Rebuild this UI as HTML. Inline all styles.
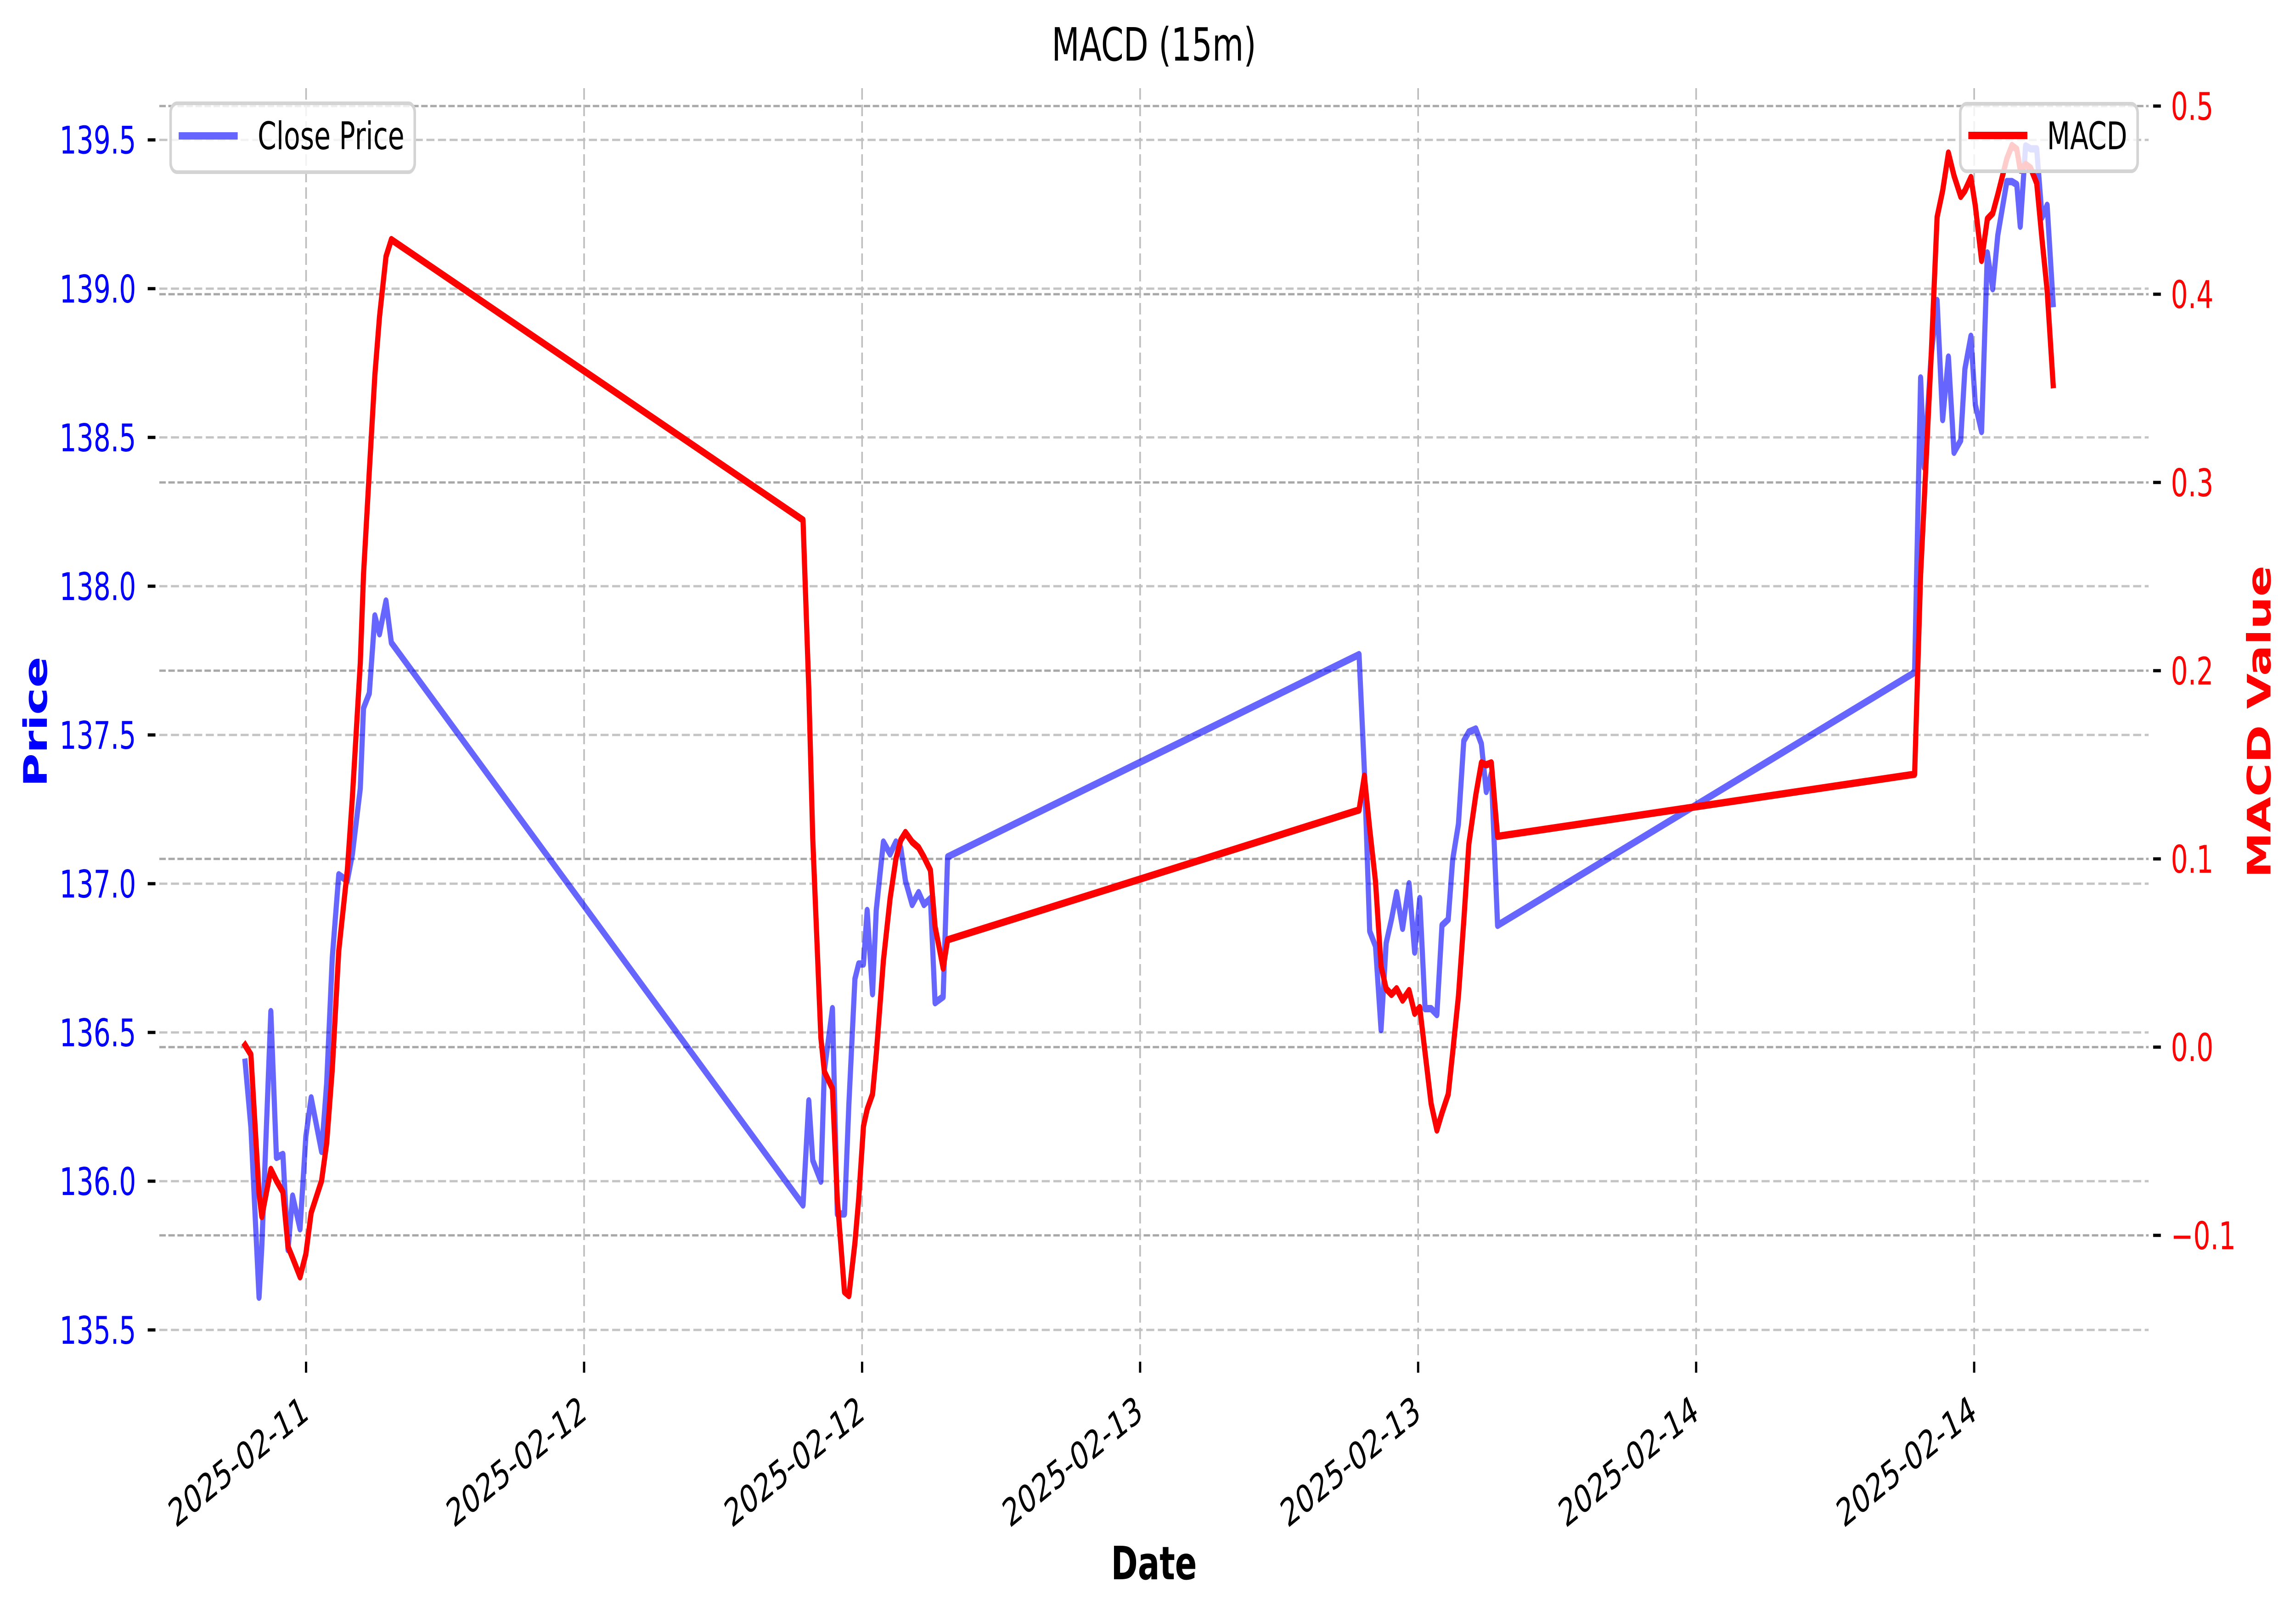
<!DOCTYPE html>
<html><head><meta charset="utf-8"><title>MACD (15m)</title>
<style>html,body{margin:0;padding:0;background:#fff;overflow:hidden;width:100%;height:100%}svg{display:block;width:100vw;height:100vh}text{font-family:"DejaVu Sans","Liberation Sans",sans-serif}</style>
</head><body>
<svg id="chart" xmlns="http://www.w3.org/2000/svg" viewBox="0 0 7119 3520" preserveAspectRatio="none">
<rect x="0" y="0" width="7119" height="3520" fill="#fff"/>
<g id="grid"></g>
<g id="ticks"></g>
<g id="series"></g>
<text x="3578" y="132" font-size="100" text-anchor="middle" fill="#000">MACD (15m)</text>
<text x="3578" y="3440" font-size="100" font-weight="bold" text-anchor="middle" fill="#000">Date</text>
<text transform="translate(145,1572) rotate(-90)" font-size="100" font-weight="bold" text-anchor="middle" fill="#0000ff">Price</text>
<text transform="translate(7040,1572) rotate(-90)" font-size="100" font-weight="bold" text-anchor="middle" fill="#ff0000">MACD Value</text>
<g>
<rect x="529" y="225" width="757" height="150" rx="20" fill="#fff" fill-opacity="0.8" stroke="#d4d4d4" stroke-width="8"/>
<line x1="554" y1="296" x2="737" y2="296" stroke="#6666ff" stroke-width="16"/>
<text x="799" y="325" font-size="83" fill="#000">Close Price</text>
</g>
<g>
<rect x="6078" y="226" width="550" height="147" rx="20" fill="#fff" fill-opacity="0.8" stroke="#d4d4d4" stroke-width="8"/>
<line x1="6103" y1="295" x2="6286" y2="295" stroke="#ff0000" stroke-width="16"/>
<text x="6347" y="325" font-size="83" fill="#000">MACD</text>
</g>
</svg>
<script>
// hours relative to 2025-02-11 12:00
const times = [-2.63,-2.38,-2.03,-1.91,-1.52,-1.28,-1.00,-0.78,-0.58,-0.26,-0.01,0.22,0.67,0.89,1.13,1.41,1.78,2.00,2.34,2.48,2.73,2.97,3.17,3.45,3.68,
21.45,21.70,21.87,22.22,22.37,22.72,22.93,23.24,23.43,23.69,23.85,24.06,24.22,24.45,24.61,24.92,25.21,25.46,25.67,25.87,26.16,26.44,26.67,26.95,27.15,27.50,27.69,
45.45,45.68,45.91,46.16,46.40,46.62,46.85,47.07,47.33,47.61,47.85,48.07,48.30,48.56,48.81,49.03,49.30,49.49,49.74,49.97,50.19,50.49,50.73,50.94,51.16,51.43,
69.43,69.69,69.84,70.14,70.40,70.64,70.89,71.13,71.42,71.60,71.86,72.05,72.32,72.57,72.80,73.02,73.41,73.63,73.84,73.99,74.22,74.44,74.70,74.93,75.15,75.41];
const closePrice = [136.40,136.18,135.61,135.78,136.57,136.08,136.09,135.77,135.95,135.84,136.15,136.28,136.10,136.33,136.75,137.03,137.01,137.10,137.32,137.59,137.64,137.90,137.84,137.95,137.81,
135.92,136.27,136.07,136.00,136.37,136.58,135.89,135.89,136.26,136.68,136.73,136.73,136.91,136.63,136.91,137.14,137.10,137.14,137.12,137.01,136.93,136.97,136.93,136.95,136.60,136.62,137.09,
137.77,137.38,136.84,136.79,136.51,136.80,136.88,136.97,136.85,137.00,136.77,136.95,136.58,136.58,136.56,136.86,136.88,137.08,137.20,137.48,137.51,137.52,137.47,137.31,137.37,136.86,
137.71,138.70,138.40,138.77,138.96,138.56,138.77,138.45,138.49,138.73,138.84,138.61,138.52,139.12,139.00,139.18,139.36,139.36,139.35,139.21,139.48,139.47,139.47,139.24,139.28,138.95];
const macdValues = [0.001,-0.004,-0.078,-0.090,-0.065,-0.071,-0.077,-0.106,-0.112,-0.122,-0.110,-0.088,-0.071,-0.051,-0.012,0.051,0.094,0.133,0.204,0.251,0.306,0.357,0.388,0.420,0.429,
0.280,0.190,0.111,0.005,-0.013,-0.022,-0.081,-0.130,-0.132,-0.104,-0.081,-0.042,-0.033,-0.025,-0.004,0.046,0.079,0.100,0.110,0.114,0.109,0.106,0.101,0.094,0.064,0.042,0.057,
0.126,0.144,0.116,0.088,0.043,0.031,0.028,0.031,0.025,0.030,0.018,0.021,-0.003,-0.030,-0.044,-0.035,-0.025,-0.003,0.027,0.067,0.108,0.134,0.151,0.150,0.151,0.112,
0.145,0.251,0.289,0.366,0.441,0.455,0.475,0.463,0.452,0.455,0.462,0.447,0.418,0.440,0.443,0.453,0.472,0.479,0.477,0.466,0.469,0.467,0.459,0.429,0.402,0.352];
const xTickHours = [0,12,24,36,48,60,72];
const xTickLabels = ["2025-02-11","2025-02-12","2025-02-12","2025-02-13","2025-02-13","2025-02-14","2025-02-14"];
const priceTicks = [135.5,136.0,136.5,137.0,137.5,138.0,138.5,139.0,139.5];
const macdTicks = [-0.1,0.0,0.1,0.2,0.3,0.4,0.5];

const PL=494, PR=6662, PT=192, PB=2952;
const X0=-6.334, X1=79.53;
const P0=135.415, P1=139.674;
const M0=-0.1637, M1=0.5095;
const xs = h => PL + (h - X0) / (X1 - X0) * (PR - PL);
const yp = p => PB - (p - P0) / (P1 - P0) * (PB - PT);
const ym = m => PB - (m - M0) / (M1 - M0) * (PB - PT);
const NS='http://www.w3.org/2000/svg';
const mk = (tag, parent) => { const e=document.createElementNS(NS,tag); parent.appendChild(e); return e; };
const grid=document.getElementById('grid'), ticks=document.getElementById('ticks'), series=document.getElementById('series');

priceTicks.forEach(v => {
  const y=yp(v);
  const g=mk('line',grid);
  
  
  g.setAttribute('x1',PL); g.setAttribute('x2',PR); g.setAttribute('y1',y); g.setAttribute('y2',y);
  g.setAttribute('stroke','#c4c4c4'); g.setAttribute('stroke-width','5'); g.setAttribute('stroke-dasharray','25 11');
  const t=mk('line',ticks);
  
  
  t.setAttribute('x1',458); t.setAttribute('x2',482); t.setAttribute('y1',y); t.setAttribute('y2',y);
  t.setAttribute('stroke','#000'); t.setAttribute('stroke-width','7');
  const l=mk('text',ticks);
  
  
  l.setAttribute('x',422); l.setAttribute('y',y+30); l.setAttribute('font-size','83');
  l.setAttribute('text-anchor','end'); l.setAttribute('fill','#0000ff');
  l.textContent=v.toFixed(1);
});
macdTicks.forEach(v => {
  const y=ym(v);
  const g=mk('line',grid);
  
  
  g.setAttribute('x1',PL); g.setAttribute('x2',PR); g.setAttribute('y1',y); g.setAttribute('y2',y);
  g.setAttribute('stroke','#a8a8a8'); g.setAttribute('stroke-width','5'); g.setAttribute('stroke-dasharray','20 8');
  const t=mk('line',ticks);
  
  
  t.setAttribute('x1',6676); t.setAttribute('x2',6700); t.setAttribute('y1',y); t.setAttribute('y2',y);
  t.setAttribute('stroke','#000'); t.setAttribute('stroke-width','7');
  const l=mk('text',ticks);
  
  
  l.setAttribute('x',6731); l.setAttribute('y',y+30); l.setAttribute('font-size','83');
  l.setAttribute('fill','#ff0000');
  l.textContent=(v<0?'\u2212':'')+Math.abs(v).toFixed(1);
});
xTickHours.forEach((h,i) => {
  const x=xs(h);
  const g=mk('line',grid);
  
  
  g.setAttribute('x1',x); g.setAttribute('x2',x); g.setAttribute('y1',PT); g.setAttribute('y2',PB);
  g.setAttribute('stroke','#bdbdbd'); g.setAttribute('stroke-width','5'); g.setAttribute('stroke-dasharray','25 11');
  const t=mk('line',ticks);
  
  
  t.setAttribute('x1',x); t.setAttribute('x2',x); t.setAttribute('y1',2966); t.setAttribute('y2',2990);
  t.setAttribute('stroke','#000'); t.setAttribute('stroke-width','7');
  const l=mk('text',ticks);
  
  
  l.setAttribute('transform','translate('+(x+13)+',3088) rotate(-30)');
  l.setAttribute('font-size','83'); l.setAttribute('text-anchor','end'); l.setAttribute('fill','#000');
  l.textContent=xTickLabels[i];
});

const priceLine=mk('polyline',series);


priceLine.setAttribute('points', times.map((h,i)=>xs(h).toFixed(1)+','+yp(closePrice[i]).toFixed(1)).join(' '));
priceLine.setAttribute('fill','none'); priceLine.setAttribute('stroke','#0000ff'); priceLine.setAttribute('stroke-opacity','0.6');
priceLine.setAttribute('stroke-width','16'); priceLine.setAttribute('stroke-linejoin','round'); priceLine.setAttribute('stroke-linecap','square');

const macdLine=mk('polyline',series);


macdLine.setAttribute('points', times.map((h,i)=>xs(h).toFixed(1)+','+ym(macdValues[i]).toFixed(1)).join(' '));
macdLine.setAttribute('fill','none'); macdLine.setAttribute('stroke','#ff0000');
macdLine.setAttribute('stroke-width','16'); macdLine.setAttribute('stroke-linejoin','round'); macdLine.setAttribute('stroke-linecap','square');
</script>
</body></html>
